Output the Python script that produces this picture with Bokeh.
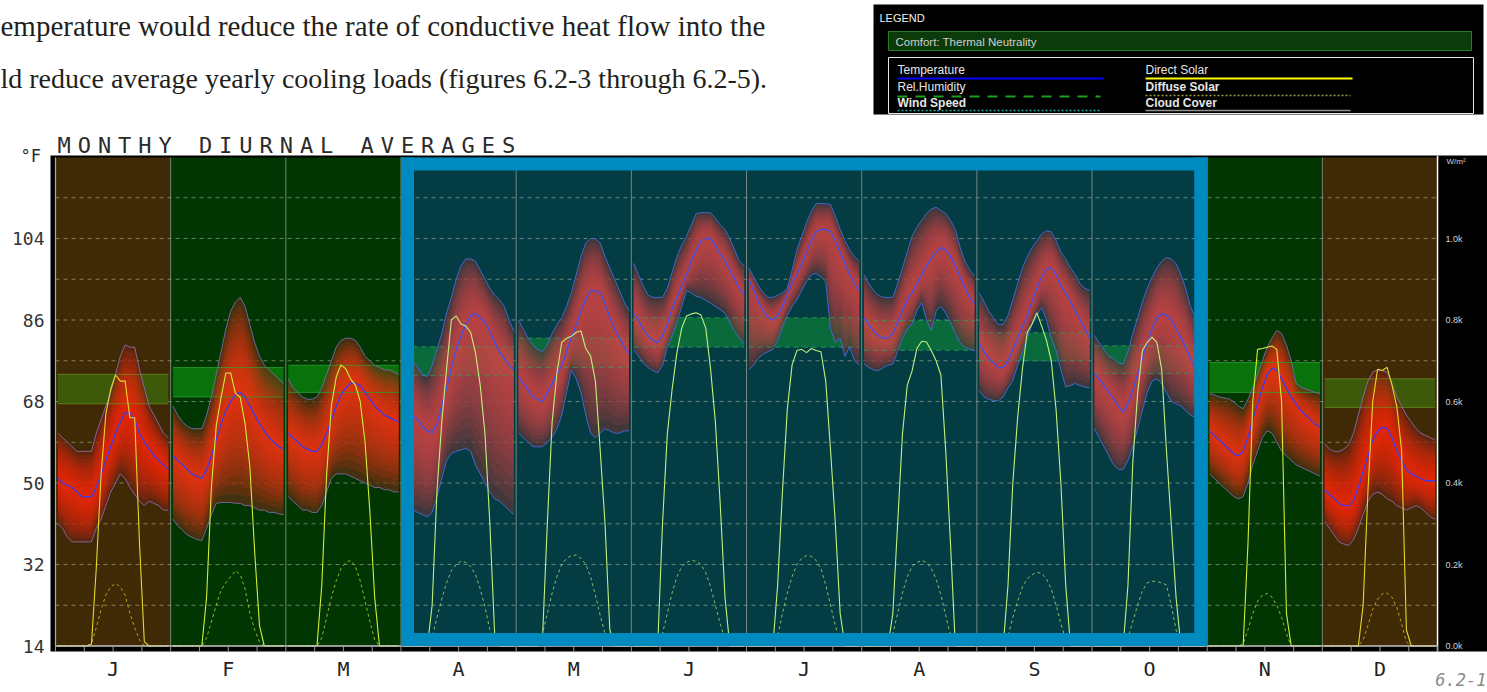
from bokeh.plotting import figure
from bokeh.models import Range1d
from bokeh.embed import file_html
from bokeh.resources import INLINE
from bokeh.core.properties import value

# ---------------------------------------------------------------- data
MONTHS = ["J", "F", "M", "A", "M", "J", "J", "A", "S", "O", "N", "D"]
SEASON = ["winter", "cool", "cool", "warm", "warm", "warm", "warm",
          "warm", "warm", "warm", "cool", "winter"]
HIGHLIGHT_MONTHS = (3, 10)          # April .. October

# hourly dry-bulb temperature (deg F): monthly maximum, mean, minimum
TEMP_MAX = [
    [61, 60, 59, 58, 57, 57, 57, 57, 61, 64, 67, 70, 74, 78, 80.5, 80, 80, 75, 71, 67, 65, 63, 61, 60],
    [67, 65, 63.5, 62.5, 62, 62, 62, 65, 69, 74, 79, 84, 88, 90, 91, 89, 85, 81, 78, 76, 75, 74, 73, 72],
    [73, 71, 70, 69, 68.5, 68.5, 69, 71, 74, 77, 80, 81.5, 82, 82, 81.5, 80, 78, 77, 76, 75.5, 75, 75, 74.5, 74],
    [78, 77.5, 77, 75.5, 74, 73.5, 76, 79.5, 83, 87.5, 91, 95, 98, 99.5, 99.5, 99, 97, 95, 93, 91.5, 90.5, 89, 86, 83.5],
    [86, 84, 82, 80.5, 79.5, 79, 80.5, 83, 85, 86.5, 89, 92, 96, 100, 103, 104, 104, 103, 100, 97.5, 95, 92.5, 90, 88],
    [98.5, 96, 93.5, 91.5, 91, 91, 91, 93, 96.5, 100, 102.5, 104.5, 107, 109.5, 109.7, 109.7, 109.7, 108.5, 107, 106, 104, 101.5, 99, 98],
    [97.5, 95.5, 93.5, 92, 91, 91, 91.5, 92, 93, 97, 101.5, 104.5, 107.5, 110, 111.7, 111.7, 111.7, 111.5, 109, 106, 103.5, 101.5, 100, 99],
    [96, 94, 92.5, 91.5, 91, 91, 91, 94, 97.5, 101, 104.5, 106.5, 108, 109.5, 110.5, 110.9, 110.2, 109.5, 108, 106, 102, 99, 97, 95.8],
    [92, 90, 88, 86.5, 85, 85, 87, 90.5, 94, 97.5, 100, 102, 103.5, 105, 105.7, 105.5, 103.5, 101, 99.5, 97.5, 96, 94, 93, 92.5],
    [82.6, 81, 79.5, 78, 77.5, 76.5, 76.3, 79, 83, 86.5, 90, 93, 95.4, 97.5, 99, 99.8, 99.5, 98.4, 96, 93, 89, 86.5, 84, 82],
    [69.7, 69.5, 69, 68.8, 68.6, 68, 67, 66.4, 68.5, 71, 74, 77, 80, 82, 83.7, 83, 80.5, 77, 72, 71.2, 70.8, 70.4, 70, 69.7],
    [58.7, 57.5, 57, 57, 57.5, 58.5, 61, 65, 69, 72.5, 74.5, 75, 74.8, 74.5, 72, 69, 67, 65, 63.5, 62, 61, 60.5, 60, 59.5],
]
TEMP_AVG = [
    [51, 50, 49.5, 49, 48, 47, 47, 47, 49, 52, 55, 58, 61, 63.5, 65.5, 65.5, 64, 61, 59, 57.5, 56, 55, 54, 53],
    [56, 55, 54, 53, 52, 51.5, 51, 53, 56, 59.5, 63, 66, 68, 69.5, 70, 69, 67, 65, 63, 61.5, 60, 59, 58, 57.5],
    [61, 60, 59, 58, 57.5, 57, 57, 58.5, 61, 64, 67, 69.5, 71, 72, 72, 71.5, 70, 68.5, 67, 66, 65, 64.5, 64, 63.5],
    [66.5, 66, 65, 64, 62.5, 61.5, 61.1, 63, 67, 71, 75.5, 79.5, 82.5, 85, 87, 87.4, 86.5, 85.5, 83.5, 81, 79, 77.5, 76, 75],
    [73.5, 72, 70.5, 69, 68.5, 68, 70, 72, 74, 76, 79, 82, 85, 88, 90.5, 92.5, 92.5, 92, 89.5, 86.5, 84, 82, 80, 78.5],
    [87.5, 86, 84, 82.5, 81.5, 81, 82.5, 85, 88.5, 91, 93.5, 96, 99, 101.5, 103.5, 104, 104, 102.5, 100.5, 99, 97, 95, 93, 91.5],
    [95, 92.5, 90, 88, 86.5, 86, 87, 89, 91.5, 94, 96, 98.5, 101, 103.5, 105.5, 106, 106, 105.5, 103.5, 101, 98.5, 96, 94, 92.5],
    [86.5, 85, 83.5, 82.5, 82, 82, 83, 85.5, 88, 90.5, 92, 94, 96, 98, 99.5, 101, 102, 101.5, 100, 98, 95.5, 93, 91, 89.5],
    [80.8, 79, 77.5, 76.5, 75.5, 75.5, 77, 79.5, 82, 84.5, 87, 90, 93, 95.5, 97.4, 97.4, 96, 93.5, 92, 90, 88, 86, 84, 82],
    [74.2, 73, 71.5, 70, 68.5, 67, 65.6, 67.5, 70.5, 74, 77.5, 81, 84, 86.5, 87.4, 87, 86, 84, 82.1, 80, 77.5, 75.5, 74, 73],
    [61.5, 60.5, 59.5, 58.5, 57.5, 56.5, 56, 57, 60, 64, 67.5, 71, 74, 75.3, 75, 73, 71, 69, 67.5, 66, 65, 64, 63, 62.3],
    [48.5, 47.5, 46.5, 45.5, 45, 45, 46, 49, 52.5, 56, 59.5, 61.5, 62.3, 62, 60, 57, 55, 53, 52, 51.5, 51, 50.5, 50.5, 50.5],
]
TEMP_MIN = [
    [41, 40, 38, 37, 37, 37, 37, 37, 40, 42, 45, 48, 50, 52, 51, 49, 47.5, 46, 45, 46, 45.5, 45, 44, 44],
    [42, 40.5, 39.5, 38.5, 38, 37.5, 37.3, 40, 43, 45.5, 45.7, 45.7, 45.7, 45.5, 45.5, 45, 45, 44.5, 44, 44, 43.5, 43.5, 43.2, 43],
    [47, 46, 45, 44, 44, 43.5, 43.5, 45, 48, 51, 52, 52, 52, 51.5, 51, 50.5, 50, 49.5, 49, 49, 48.5, 48.5, 48, 48],
    [45, 44.5, 44, 43.5, 43, 42.5, 43.5, 47, 51, 55, 56.5, 57, 57.3, 57.6, 57, 54, 52, 50, 48, 46.5, 46, 45, 44, 43],
    [61, 60, 59, 58, 58, 58, 59, 60, 62, 65, 70, 75, 73, 70, 65, 61, 60, 61, 62, 61.5, 61, 61, 61.5, 61.5],
    [79.5, 78, 76.5, 75.5, 74.8, 74.3, 76, 80, 82.5, 85.5, 89, 92.5, 92, 91.2, 91, 90.3, 89.7, 89, 88.3, 87.5, 85.5, 83.5, 82, 80.8],
    [75, 76, 77.5, 78.5, 79, 79.5, 81.5, 84.5, 87, 89, 90.5, 92.5, 94.5, 96, 96.3, 95.5, 94.5, 84, 81, 82, 78, 80, 77, 76],
    [76.3, 75.5, 75, 74.8, 75.5, 76, 76.3, 79, 82, 84, 85.2, 88, 89.9, 86, 83.7, 88, 89, 87.5, 85.5, 83, 81, 80, 79.5, 79.3],
    [70.4, 69, 68.5, 68.2, 68.2, 69, 71, 72.6, 76, 79, 82, 85, 87, 88.8, 86, 82, 79.3, 75, 71.2, 71.5, 72, 71.5, 71.2, 71],
    [62, 60, 58, 56, 54, 53, 53, 55, 58, 62, 66, 70, 72.5, 73, 72, 70, 68, 67.5, 67, 66, 65, 64.5, 64, 63.5],
    [52, 51, 50, 49, 48, 47, 46.5, 47, 50, 54, 57, 60, 61.5, 61, 59, 57, 56, 55, 54, 53.5, 53, 52.5, 52, 51.5],
    [41.5, 40, 38.5, 37, 36.5, 36.2, 37.5, 40, 43, 46, 47.5, 48, 47.5, 46.5, 46, 45, 44.5, 44, 44.5, 45, 44.5, 43.5, 42.5, 42],
]
# hourly solar radiation (W/m2)
SOLAR_DIRECT = [
    [0, 0, 0, 0, 0, 0, 0, 5, 190, 420, 570, 630, 665, 650, 650, 560, 560, 250, 10, 0, 0, 0, 0, 0],
    [0, 0, 0, 0, 0, 0, 0, 120, 390, 540, 610, 670, 670, 620, 610, 545, 440, 230, 50, 0, 0, 0, 0, 0],
    [0, 0, 0, 0, 0, 0, 0, 150, 420, 590, 660, 690, 680, 655, 640, 600, 500, 330, 120, 0, 0, 0, 0, 0],
    [0, 0, 0, 0, 0, 0, 100, 380, 550, 680, 800, 810, 790, 785, 770, 720, 640, 520, 300, 30, 0, 0, 0, 0],
    [0, 0, 0, 0, 0, 20, 300, 550, 670, 745, 755, 760, 770, 773, 730, 712, 650, 480, 300, 40, 0, 0, 0, 0],
    [0, 0, 0, 0, 0, 0, 300, 520, 630, 720, 780, 810, 815, 818, 812, 780, 680, 550, 350, 120, 0, 0, 0, 0],
    [0, 0, 0, 0, 0, 0, 150, 380, 580, 690, 725, 728, 720, 730, 725, 722, 650, 480, 300, 80, 0, 0, 0, 0],
    [0, 0, 0, 0, 0, 0, 80, 300, 520, 640, 675, 730, 748, 746, 725, 700, 665, 480, 250, 0, 0, 0, 0, 0],
    [0, 0, 0, 0, 0, 0, 150, 400, 560, 680, 770, 790, 818, 785, 750, 700, 580, 400, 150, 0, 0, 0, 0, 0],
    [0, 0, 0, 0, 0, 0, 0, 150, 450, 620, 725, 745, 758, 745, 680, 480, 300, 120, 0, 0, 0, 0, 0, 0],
    [0, 0, 0, 0, 0, 0, 0, 0, 250, 600, 728, 730, 733, 736, 728, 600, 80, 0, 0, 0, 0, 0, 0, 0],
    [0, 0, 0, 0, 0, 0, 0, 0, 100, 380, 600, 679, 676, 684, 640, 588, 480, 40, 0, 0, 0, 0, 0, 0],
]
SOLAR_DIFFUSE = [
    [0, 0, 0, 0, 0, 0, 0, 5, 45, 90, 125, 145, 154, 145, 125, 80, 45, 15, 0, 0, 0, 0, 0, 0],
    [0, 0, 0, 0, 0, 0, 0, 20, 60, 100, 137, 155, 170, 185, 175, 140, 80, 40, 10, 0, 0, 0, 0, 0],
    [0, 0, 0, 0, 0, 0, 0, 20, 70, 120, 160, 190, 205, 210, 195, 160, 110, 60, 15, 0, 0, 0, 0, 0],
    [0, 0, 0, 0, 0, 0, 20, 70, 115, 155, 185, 200, 208, 205, 195, 175, 140, 95, 40, 5, 0, 0, 0, 0],
    [0, 0, 0, 0, 0, 30, 80, 130, 170, 200, 215, 222, 223, 215, 200, 170, 125, 75, 30, 0, 0, 0, 0, 0],
    [0, 0, 0, 0, 0, 0, 30, 80, 130, 170, 195, 205, 210, 208, 200, 180, 145, 100, 55, 15, 0, 0, 0, 0],
    [0, 0, 0, 0, 0, 0, 25, 80, 130, 170, 200, 215, 222, 220, 210, 190, 150, 100, 50, 10, 0, 0, 0, 0],
    [0, 0, 0, 0, 0, 0, 30, 80, 130, 170, 195, 205, 210, 205, 190, 165, 125, 75, 25, 0, 0, 0, 0, 0],
    [0, 0, 0, 0, 0, 0, 25, 70, 110, 145, 165, 175, 181, 178, 165, 140, 100, 55, 15, 0, 0, 0, 0, 0],
    [0, 0, 0, 0, 0, 0, 0, 20, 60, 100, 135, 155, 159, 158, 155, 150, 100, 40, 0, 0, 0, 0, 0, 0],
    [0, 0, 0, 0, 0, 0, 0, 5, 40, 80, 110, 125, 129, 120, 100, 70, 30, 0, 0, 0, 0, 0, 0, 0],
    [0, 0, 0, 0, 0, 0, 0, 0, 15, 50, 90, 115, 128, 130, 120, 95, 55, 10, 0, 0, 0, 0, 0, 0],
]
# thermal-neutrality comfort band per month (deg F)
COMFORT_LO = [67.5, 69, 70, 73.7, 75.5, 80, 80, 79.3, 77, 74.2, 70, 66.7]
COMFORT_HI = [74, 75.5, 76, 80.1, 82, 86.5, 86.5, 85.9, 83.2, 80.3, 76.6, 73]

TEMP_TICKS = [14, 32, 50, 68, 86, 104]
TEMP_TICK_LABELS = ["14", "32", "50", "68", "86", "104"]
GRID_TEMPS = [23, 32, 41, 50, 59, 68, 77, 86, 95, 104, 113]
SOLAR_TICKS = [0, 200, 400, 600, 800, 1000]
SOLAR_LABELS = ["0.0k", "0.2k", "0.4k", "0.6k", "0.8k", "1.0k"]

TITLE = "MONTHY DIURNAL AVERAGES"
BODY_LINES = ["emperature would reduce the rate of conductive heat flow into the",
              "ld reduce average yearly cooling loads (figures 6.2-3 through 6.2-5)."]
FIG_NUMBER = "6.2-1"
LEGEND_LEFT = ["Temperature", "Rel.Humidity", "Wind Speed"]
LEGEND_RIGHT = ["Direct Solar", "Diffuse Solar", "Cloud Cover"]

# ---------------------------------------------------------------- styles
PANEL_BG = {"winter": "#3f2a05", "cool": "#013501", "warm": "#033d43"}
COMFORT_FILL = {"winter": "#3d5a0a", "cool": "#0a720a", "warm": "#0b6a3c"}
COMFORT_EDGE = {"winter": "#6f8f22", "cool": "#2fa02f", "warm": "#2fa066"}
BAND_BASE = {"winter": "#4a2418", "cool": "#40301a", "warm": "#453036"}
BAND_RED = {"winter": "#ff2a08", "cool": "#ff3210", "warm": "#d84848"}
EDGE_LINE = {"winter": "#8e6aa8", "cool": "#7a6aa8", "warm": "#4c6ad6"}
AVG_LINE = {"winter": "#3b3bf0", "cool": "#3b3bf0", "warm": "#3c50f0"}
SUN_LINE = {"winter": "#e8d82a", "cool": "#d2ee3a", "warm": "#c2f07e"}
HIGHLIGHT_BLUE = "#008abf"
MONO = "DejaVu Sans Mono"
SANS = "Liberation Sans"
SERIF = "Liberation Serif"

# page geometry: one month is 115.17 px wide, 9 deg F is 40.75 px tall
PX_MONTH, X_ORIGIN_PX = 115.17, 55.0
PX_PER_F, Y14_PX = 40.75 / 9, 645.5
F_PER_WM2 = 0.09                    # 1000 W/m2 spans 90 deg F on the twin scale
W, H = 1487, 692
PAD = 0.02
N_LAYERS = 12
T_PANEL_TOP = 121.9


def sx(px):
    return (px - X_ORIGIN_PX) / PX_MONTH


def sy(py):
    return 14 + (Y14_PX - py) / PX_PER_F


def hour_x(m):
    return [m + PAD + h * (1 - 2 * PAD) / 23 for h in range(24)]


p = figure(width=W, height=H, output_backend="svg", toolbar_location=None, title=None,
           x_range=Range1d(sx(0), sx(W)), y_range=Range1d(sy(H), sy(0)),
           x_axis_location=None, y_axis_location=None, min_border=0)
p.extra_y_ranges = {"solar": Range1d((sy(H) - 14) / F_PER_WM2, (sy(0) - 14) / F_PER_WM2)}
p.background_fill_color = "white"
p.border_fill_color = "white"
p.outline_line_color = None
p.grid.visible = False

# ---------------------------------------------------------------- legend panel
p.quad(left=[sx(873)], right=[sx(1483)], top=[sy(4)], bottom=[sy(114)],
       fill_color="black", line_color=None)
p.text(x=[sx(879)], y=[sy(17)], text=["LEGEND"], text_font=value(SANS),
       text_font_size="11px", text_color="#f0f0f0", text_baseline="middle")
p.quad(left=[sx(888)], right=[sx(1471)], top=[sy(31)], bottom=[sy(50)],
       fill_color="#0b3a0b", line_color="#2b7a2b", line_width=1)
p.text(x=[sx(895)], y=[sy(41)], text=["Comfort: Thermal Neutrality"], text_font=value(SANS),
       text_font_size="11.5px", text_color="#d0d0d0", text_baseline="middle")
p.quad(left=[sx(888)], right=[sx(1473)], top=[sy(57)], bottom=[sy(113)], fill_color=None,
       line_color="#e8e8e8", line_width=1)
rows_y = [sy(69), sy(86), sy(102)]
styles = ["normal", "normal", "bold"]
for i in range(3):
    p.text(x=[sx(897)], y=[rows_y[i]], text=[LEGEND_LEFT[i]], text_font=value(SANS),
           text_font_size="12px", text_color="#e6e6e6", text_baseline="middle",
           text_font_style=styles[i])
    p.text(x=[sx(1145)], y=[rows_y[i]], text=[LEGEND_RIGHT[i]], text_font=value(SANS),
           text_font_size="12px", text_color="#e6e6e6", text_baseline="middle",
           text_font_style="normal" if i == 0 else "bold")
p.line([sx(897), sx(1103)], [sy(78)] * 2, line_color="#0000ff", line_width=2)
p.line([sx(1145), sx(1352)], [sy(78)] * 2, line_color="#ffff00", line_width=2)
p.line([sx(897), sx(1100)], [sy(96)] * 2, line_color="#1e9e1e", line_width=2, line_dash="10 8")
p.line([sx(1145), sx(1350)], [sy(95)] * 2, line_color="#9a9a40", line_width=1.5, line_dash="2 2")
p.line([sx(897), sx(1100)], [sy(110)] * 2, line_color="#20b0a0", line_width=1.5, line_dash="2 2")
p.line([sx(1145), sx(1350)], [sy(110)] * 2, line_color="#909090", line_width=1.5)

# ---------------------------------------------------------------- chart
# black frame behind the month panels and the radiation scale
p.quad(left=[sx(50)], right=[sx(W)], bottom=[sy(651)], top=[sy(155)],
       fill_color="black", line_color=None)

p.quad(left=list(range(12)), right=[m + 1 for m in range(12)],
       bottom=[14] * 12, top=[T_PANEL_TOP] * 12,
       fill_color=[PANEL_BG[s] for s in SEASON], line_color=None)

p.segment(x0=[0] * len(GRID_TEMPS), x1=[12] * len(GRID_TEMPS), y0=GRID_TEMPS, y1=GRID_TEMPS,
          line_color="#d2d2bc", line_alpha=0.5, line_dash="4 4", line_width=1)

p.quad(left=[m + PAD for m in range(12)], right=[m + 1 - PAD for m in range(12)],
       bottom=COMFORT_LO, top=COMFORT_HI,
       fill_color=[COMFORT_FILL[s] for s in SEASON], line_color=None)

for m in range(12):
    s = SEASON[m]
    xs = hour_x(m)
    lo, av, hi = TEMP_MIN[m], TEMP_AVG[m], TEMP_MAX[m]
    # temperature range band, glowing toward the monthly mean
    p.varea(x=xs, y1=lo, y2=hi, fill_color=BAND_BASE[s], fill_alpha=0.6)
    for k in range(N_LAYERS):
        f = 1 - k / N_LAYERS
        y1 = [a - (a - l) * f for a, l in zip(av, lo)]
        y2 = [a + (h - a) * f for a, h in zip(av, hi)]
        p.varea(x=xs, y1=y1, y2=y2, fill_color=BAND_RED[s], fill_alpha=0.14)

for m in range(12):
    s = SEASON[m]
    p.segment(x0=[m + PAD] * 2, x1=[m + 1 - PAD] * 2,
              y0=[COMFORT_LO[m], COMFORT_HI[m]], y1=[COMFORT_LO[m], COMFORT_HI[m]],
              line_color=COMFORT_EDGE[s], line_alpha=0.75, line_width=1,
              line_dash="solid" if s != "warm" else "5 4")

for m in range(12):
    s = SEASON[m]
    xs = hour_x(m)
    p.line(xs, TEMP_MAX[m], line_color=EDGE_LINE[s], line_width=1, line_alpha=0.9)
    p.line(xs, TEMP_MIN[m], line_color=EDGE_LINE[s], line_width=1, line_alpha=0.9)
    p.line(xs, TEMP_AVG[m], line_color=AVG_LINE[s], line_width=1.3)
    p.line(xs, SOLAR_DIFFUSE[m], y_range_name="solar", line_color=SUN_LINE[s],
           line_width=1, line_alpha=0.7, line_dash="3 3")
    p.line(xs, SOLAR_DIRECT[m], y_range_name="solar", line_color=SUN_LINE[s], line_width=1.1)

# month separators and frame edges
p.segment(x0=list(range(1, 12)), x1=list(range(1, 12)), y0=[14] * 11, y1=[T_PANEL_TOP] * 11,
          line_color="#8f9f95", line_alpha=0.8, line_width=1)
p.segment(x0=[0], x1=[0], y0=[14], y1=[T_PANEL_TOP], line_color="#a8a8a8", line_width=1.2)
p.segment(x0=[12], x1=[12], y0=[sy(651)], y1=[sy(155)], line_color="#ffffff", line_width=1.5)
p.segment(x0=[0], x1=[12], y0=[14], y1=[14], line_color="#c4c4c4", line_width=1.5)

qt = [k / 4 for k in range(49)]
p.segment(x0=qt, x1=qt, y0=[sy(651)] * len(qt), y1=[14] * len(qt),
          line_color="#9a9a9a", line_width=1)

# highlighted cooling season
a, b = HIGHLIGHT_MONTHS
tx, ty = 13 / PX_MONTH, 13 / PX_PER_F
p.quad(left=[a, b - tx, a, a], right=[a + tx, b, b, b],
       bottom=[14, 14, 14, T_PANEL_TOP - ty], top=[T_PANEL_TOP, T_PANEL_TOP, 14 + ty, T_PANEL_TOP],
       fill_color=HIGHLIGHT_BLUE, line_color=None)

# ---------------------------------------------------------------- scales
p.text(x=[sx(44)] * len(TEMP_TICKS), y=TEMP_TICKS, text=TEMP_TICK_LABELS,
       text_font=value(MONO), text_font_size="18px", text_color="#333333",
       text_align="right", text_baseline="middle")
p.text(x=[m + 0.5 for m in range(12)], y=[sy(668)] * 12, text=MONTHS,
       text_font=value(MONO), text_font_size="20px", text_color="#222222",
       text_align="center", text_baseline="middle")
p.text(x=[sx(1445)] * len(SOLAR_TICKS), y=SOLAR_TICKS, text=SOLAR_LABELS, y_range_name="solar",
       text_font=value(SANS), text_font_size="9px", text_color="#d4d4d4",
       text_align="left", text_baseline="middle")
p.text(x=[sx(1446)], y=[sy(156)], text=["W/m\u00b2"], text_font=value(SANS),
       text_font_size="8px", text_color="#d4d4d4", text_align="left", text_baseline="top")
p.text(x=[sx(1486)], y=[sy(679)], text=[FIG_NUMBER], text_font=value(MONO),
       text_font_style="italic", text_font_size="17px", text_color="#8a8a8a",
       text_align="right", text_baseline="middle")

# ---------------------------------------------------------------- page text
p.text(x=[sx(0)], y=[sy(25)], text=[BODY_LINES[0]], text_font=value(SERIF),
       text_font_size="29px", text_color="#231f20", text_baseline="middle")
p.text(x=[sx(0)], y=[sy(78)], text=[BODY_LINES[1]], text_font=value(SERIF),
       text_font_size="28px", text_color="#231f20", text_baseline="middle")
chars = list(TITLE)
p.text(x=[sx(57 + i * 20.2) for i in range(len(chars))], y=[sy(145)] * len(chars),
       text=chars, text_font=value(MONO), text_font_size="22px",
       text_color="#2b2b2b", text_baseline="middle")
p.text(x=[sx(20)], y=[sy(155)], text=["\u00b0F"], text_font=value(MONO),
       text_font_size="17px", text_color="#2b2b2b", text_baseline="middle")

open("out.html", "w").write(file_html(p, INLINE))
